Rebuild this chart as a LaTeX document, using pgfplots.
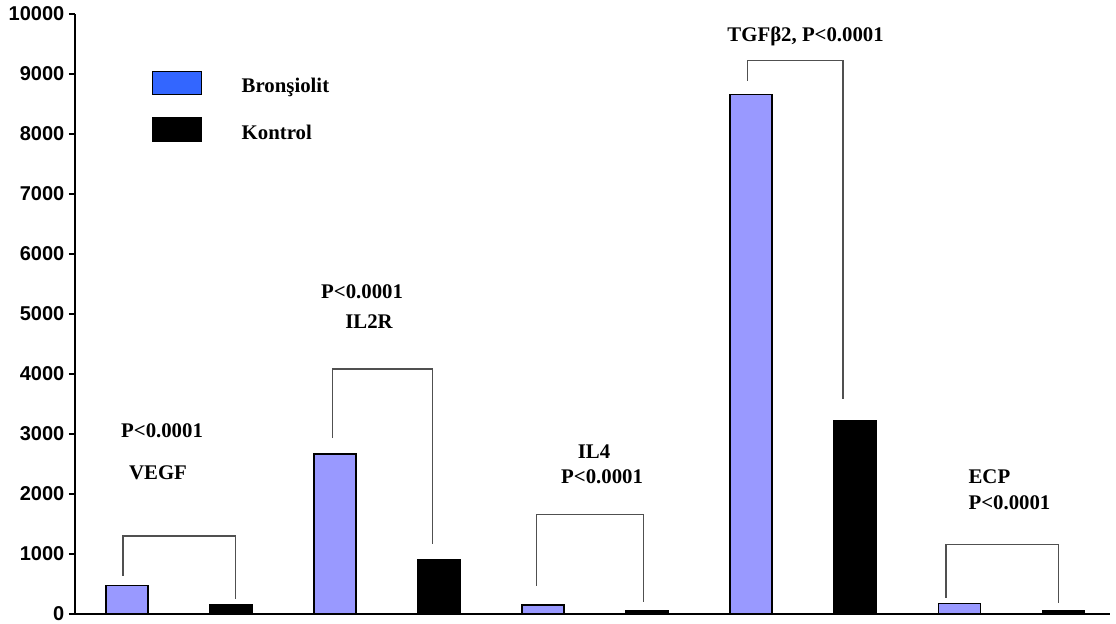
\documentclass[border=0pt]{standalone}
\usepackage{fontspec}
\setmainfont{Liberation Serif}
\setsansfont{Liberation Sans}
\usepackage{pgfplots}
\pgfplotsset{compat=1.18}

\definecolor{barblue}{HTML}{9999FF}
\definecolor{legblue}{HTML}{3366FF}
\definecolor{brk}{HTML}{505050}

\begin{document}
\begin{tikzpicture}
\useasboundingbox (0,0) rectangle (558pt,312pt);
\begin{axis}[
  at={(37.5pt,5pt)}, anchor=south west,
  scale only axis, width=517.5pt, height=300pt,
  xmin=-0.5, xmax=9.45, ymin=0, ymax=10000,
  axis lines=left, axis line style={-, line width=0.7pt, black},
  xtick=\empty,
  ytick={0,1000,...,10000},
  scaled y ticks=false,
  tick align=outside, major tick length=3pt,
  tick style={line width=0.6pt, black},
  yticklabel style={font=\sffamily\bfseries\fontsize{10}{12}\selectfont, xshift=1.2pt},
  /pgf/number format/1000 sep={},
  /pgf/number format/assume math mode=true,
  clip=false,
  legend style={at={(0.0741,0.9055)}, anchor=north west, draw=none, fill=none,
    inner sep=0pt, outer sep=0pt, row sep=11pt,
    font=\bfseries\fontsize{10.4}{12}\selectfont,
    nodes={inner sep=0pt}},
  legend cell align=left,
]
% bar values
\addplot[ybar, bar width=21pt, bar shift=0pt, fill=barblue, draw=black, line width=0.65pt, forget plot]
  coordinates {(0,472) (2,2667) (4,150) (6,8662) (8,178)};
\addplot[ybar, bar width=21pt, bar shift=0pt, fill=black, draw=black, line width=0.65pt, forget plot]
  coordinates {(1,155) (3,912) (5,55) (7,3228) (9,62)};

% legend entries
\addlegendimage{legend image code/.code={\draw[fill=legblue,draw=black,line width=0.65pt] (0pt,-4.125pt) rectangle (24.5pt,7.625pt); \path (44.5pt,0pt);}}
\addlegendentry{Bronşiolit}
\addlegendimage{legend image code/.code={\draw[fill=black,draw=black,line width=0.65pt] (0pt,-4.125pt) rectangle (24.5pt,7.625pt); \path (44.5pt,0pt);}}
\addlegendentry{Kontrol}

% significance brackets
\begin{scope}[brk, line width=0.65pt]
\draw (axis cs:-0.038,638) |- (axis cs:1.041,1300) -- (axis cs:1.041,250);
\draw (axis cs:1.978,2933) |- (axis cs:2.936,4083) -- (axis cs:2.936,1167);
\draw (axis cs:3.939,467) |- (axis cs:4.964,1662) -- (axis cs:4.964,205);
\draw (axis cs:5.968,8888) |- (axis cs:6.882,9222) -- (axis cs:6.882,3583);
\draw (axis cs:7.872,267) |- (axis cs:8.952,1155) -- (axis cs:8.952,188);
\end{scope}

% labels
\begin{scope}[every node/.style={font=\bfseries\fontsize{10.4}{12}\selectfont, inner sep=0pt}]
\node at (axis cs:0.337,3050) {P<0.0001};
\node at (axis cs:0.298,2350) {VEGF};
\node at (axis cs:2.26,5372) {P<0.0001};
\node at (axis cs:2.327,4872) {IL2R};
\node at (axis cs:4.49,2705) {IL4};
\node at (axis cs:4.567,2288) {P<0.0001};
\node at (axis cs:6.524,9633) {TGFβ2, P<0.0001};
\node[anchor=west] at (axis cs:8.087,2283) {ECP};
\node[anchor=west] at (axis cs:8.087,1850) {P<0.0001};
\end{scope}
\end{axis}
\end{tikzpicture}
\end{document}
